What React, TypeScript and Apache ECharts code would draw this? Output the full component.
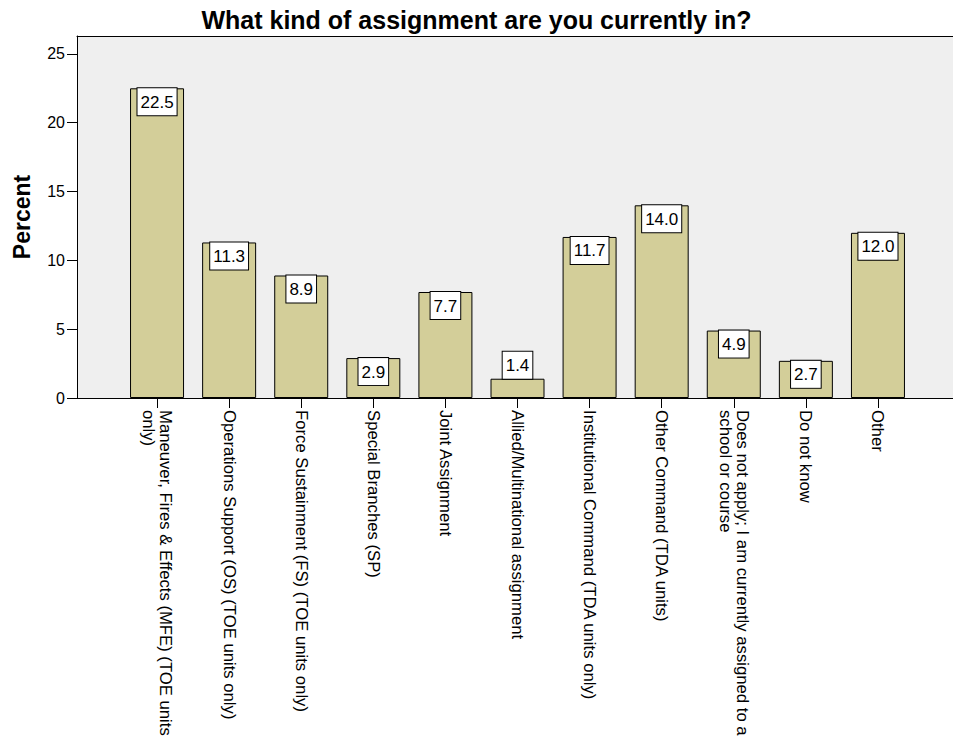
import React, { useEffect, useRef } from "react";
import * as echarts from "echarts";

const titleText = "What kind of assignment are you currently in?";
const yAxisTitle = "Percent";
const categories = [
  "Maneuver, Fires & Effects (MFE) (TOE units\nonly)",
  "Operations Support (OS) (TOE units only)",
  "Force Sustainment (FS) (TOE units only)",
  "Special Branches (SP)",
  "Joint Assignment",
  "Allied/Multinational assignment",
  "Institutional Command (TDA units only)",
  "Other Command (TDA units)",
  "Does not apply; I am currently assigned to a\nschool or course",
  "Do not know",
  "Other",
];
const percents = [22.5, 11.3, 8.9, 2.9, 7.7, 1.4, 11.7, 14.0, 4.9, 2.7, 12.0];
const yTicks = [0, 5, 10, 15, 20, 25];
const yMax = 26.3;

const FONT = "'Liberation Sans', Arial, sans-serif";

export default function App() {
  const ref = useRef<HTMLDivElement>(null);
  useEffect(() => {
    if (!ref.current) return;
    const chart = echarts.init(ref.current, null, { renderer: "svg" });
    const gridTop = 36;
    const gridBottom = 352;
    chart.setOption({
      animation: false,
      backgroundColor: "#ffffff",
      title: {
        text: titleText,
        left: "center",
        top: 2,
        textStyle: { fontFamily: FONT, fontSize: 25, fontWeight: "bold", color: "#000" },
      },
      grid: [
        { left: 77, right: 0, top: gridTop, bottom: gridBottom, show: true, backgroundColor: "#efefef", borderWidth: 0 },
        { left: 121, right: 39, top: gridTop, bottom: gridBottom },
      ],
      xAxis: [
        {
          gridIndex: 0, type: "value", min: 0, max: 1, position: "bottom",
          axisLine: { show: true, lineStyle: { color: "#000", width: 1 } },
          axisTick: { show: false }, axisLabel: { show: false }, splitLine: { show: false },
        },
        {
          gridIndex: 0, type: "value", min: 0, max: 1, position: "top",
          axisLine: { show: true, lineStyle: { color: "#000", width: 1 } },
          axisTick: { show: false }, axisLabel: { show: false }, splitLine: { show: false },
        },
        {
          gridIndex: 1, type: "category", data: categories, position: "bottom",
          axisLine: { show: false },
          axisTick: { show: true, alignWithLabel: true, length: 10, lineStyle: { color: "#000", width: 1 } },
          axisLabel: {
            interval: 0, rotate: -90, margin: 12, color: "#000",
            fontFamily: FONT, fontSize: 16.7, lineHeight: 17,
          },
          splitLine: { show: false },
        },
      ],
      yAxis: [
        {
          gridIndex: 0, type: "value", min: 0, max: yMax, interval: 5,
          name: yAxisTitle, nameLocation: "middle", nameGap: 44,
          nameTextStyle: { fontFamily: FONT, fontSize: 23, fontWeight: "bold", color: "#000" },
          axisLine: { show: true, lineStyle: { color: "#000", width: 1 } },
          axisTick: { show: true, length: 10, customValues: yTicks, lineStyle: { color: "#000", width: 1 } },
          axisLabel: { customValues: yTicks, margin: 12, color: "#000", fontFamily: FONT, fontSize: 16 },
          splitLine: { show: false },
        },
        {
          gridIndex: 1, type: "value", min: 0, max: yMax, show: false, splitLine: { show: false },
        },
      ],
      series: [
        {
          type: "bar",
          xAxisIndex: 2,
          yAxisIndex: 1,
          barWidth: 54,
          itemStyle: { color: "#d3ce99", borderColor: "#000", borderWidth: 1 },
          label: {
            show: true,
            position: "insideTop",
            distance: 0,
            formatter: (p: any) => Number(p.value).toFixed(1),
            backgroundColor: "#fff",
            borderColor: "#000",
            borderWidth: 1,
            padding: [5, 3, 4, 3],
            color: "#000",
            fontFamily: FONT,
            fontSize: 17,
            lineHeight: 18,
          },
          data: percents.map((v) =>
            v < 2 ? { value: v, label: { position: "top", distance: 0 } } : { value: v }
          ),
        },
      ],
    });
    return () => chart.dispose();
  }, []);
  return (
    <div
      ref={ref}
      style={{ position: "fixed", left: 0, top: 0, width: 953, height: 750 }}
    />
  );
}
